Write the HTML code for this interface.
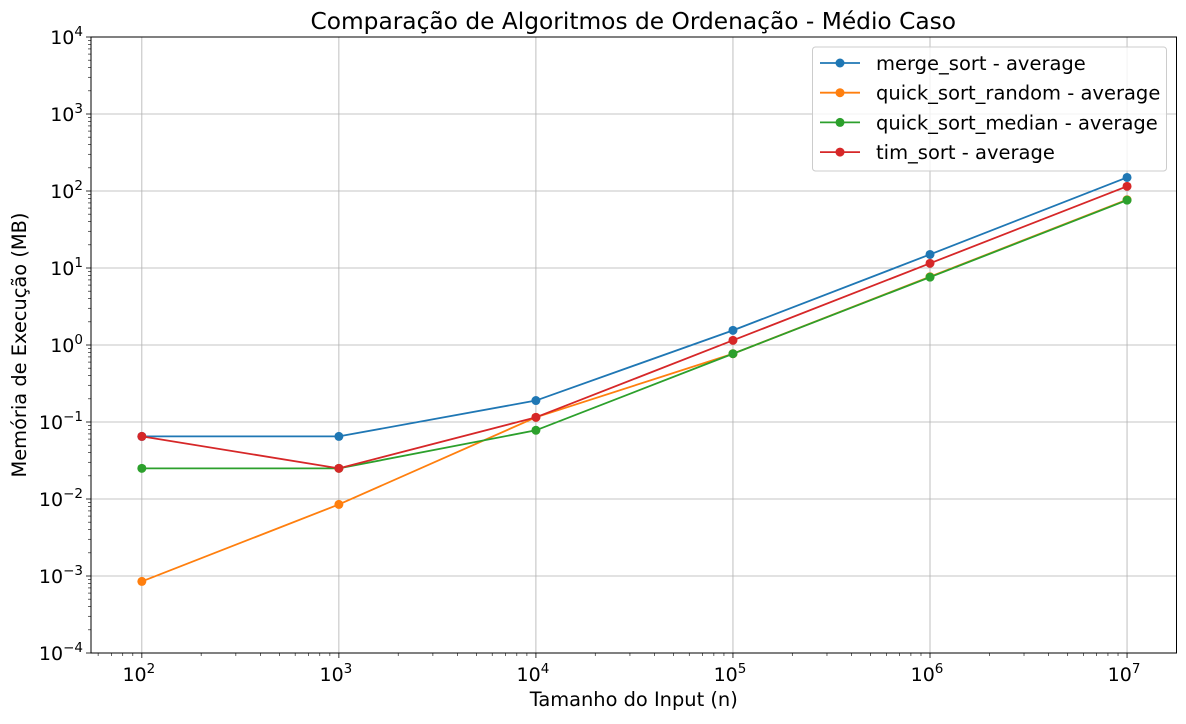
<!DOCTYPE html>
<html><head><meta charset="utf-8"><style>body{margin:0;background:#fff}svg{font-family:"DejaVu Sans","Liberation Sans",sans-serif}</style></head>
<body>
<svg id="c" width="1186" height="719" xmlns="http://www.w3.org/2000/svg"></svg>
<script>
const categories=[100,1000,10000,100000,1000000,10000000];
const seriesNames=["merge_sort - average","quick_sort_random - average","quick_sort_median - average","tim_sort - average"];
const mergeSort=[0.065,0.065,0.19,1.55,15,150];
const quickRandom=[0.00085,0.0085,0.115,0.77,7.7,77];
const quickMedian=[0.025,0.025,0.078,0.77,7.6,76];
const timSort=[0.065,0.025,0.115,1.15,11.5,115];
const xTickExps=[2,3,4,5,6,7];
const yTickExps=[-4,-3,-2,-1,0,1,2,3,4];
const colors=["#1f77b4","#ff7f0e","#2ca02c","#d62728"];
const L=91,R=1176.5,T=37,B=653;
const xmin=1.742,xmax=7.251,ymin=-4,ymax=4;
const sx=v=>L+(Math.log10(v)-xmin)/(xmax-xmin)*(R-L);
const sy=v=>B-(Math.log10(v)-ymin)/(ymax-ymin)*(B-T);
const svg=document.getElementById('c');const NS="http://www.w3.org/2000/svg";
function mk(t,a,p){const e=document.createElementNS(NS,t);for(const k in a)e.setAttribute(k,a[k]);(p||svg).appendChild(e);return e;}
const sup=e=>(e<0?'\u2212'+(-e):''+e);
// grid
xTickExps.forEach(e=>{const x=sx(10**e);const g=mk('line',{x1:x,x2:x,y1:T,y2:B,stroke:'#b0b0b0','stroke-width':0.8});

});
yTickExps.forEach(e=>{const y=sy(10**e);const g=mk('line',{x1:L,x2:R,y1:y,y2:y,stroke:'#b0b0b0','stroke-width':0.8});

});
// x ticks
xTickExps.forEach(e=>{const x=sx(10**e);mk('line',{x1:x,x2:x,y1:B,y2:B+5,stroke:'#000','stroke-width':0.8});
const t=mk('text',{x:x-3,y:B+28,'text-anchor':'middle','font-size':19});t.innerHTML='10<tspan dy="-8" font-size="13.5">'+sup(e)+'</tspan>';

});
for(let e=1;e<=7;e++)for(let m=2;m<=9;m++){const v=m*10**e;const lv=Math.log10(v);if(lv<xmin||lv>xmax)continue;const x=sx(v);mk('line',{x1:x,x2:x,y1:B,y2:B+3,stroke:'#000','stroke-width':0.6});}
yTickExps.forEach(e=>{const y=sy(10**e);mk('line',{x1:L-5,x2:L,y1:y,y2:y,stroke:'#000','stroke-width':0.8});
const t=mk('text',{x:L-8,y:y+7,'text-anchor':'end','font-size':19});t.innerHTML='10<tspan dy="-8" font-size="13.5">'+sup(e)+'</tspan>';

});
for(let e=-4;e<4;e++)for(let m=2;m<=9;m++){const y=sy(m*10**e);mk('line',{x1:L-3,x2:L,y1:y,y2:y,stroke:'#000','stroke-width':0.6});}
// frame
const fr=mk('rect',{x:L,y:T,width:R-L,height:B-T,fill:'none',stroke:'#000','stroke-width':1});


// series
const all=[mergeSort,quickRandom,quickMedian,timSort];
all.forEach((s,i)=>{const g=mk('g',{});


mk('polyline',{points:s.map((v,j)=>sx(categories[j])+','+sy(v)).join(' '),fill:'none',stroke:colors[i],'stroke-width':1.8},g);
s.forEach((v,j)=>{const c=mk('circle',{cx:sx(categories[j]),cy:sy(v),r:4.5,fill:colors[i]},g);

});});
// legend
const lg=mk('g',{});


mk('rect',{x:812.5,y:47,width:354,height:124,rx:3,fill:'#fff','fill-opacity':0.8,stroke:'#ccc'},lg);
seriesNames.forEach((n,i)=>{const y=63+i*29.7;mk('line',{x1:820,x2:860,y1:y,y2:y,stroke:colors[i],'stroke-width':1.8},lg);
mk('circle',{cx:840,cy:y,r:4.5,fill:colors[i]},lg);
const t=mk('text',{x:876,y:y+7,'font-size':19.5},lg);t.textContent=n;

});
// titles
let t=mk('text',{x:(L+R)/2+-0.5,y:29,'text-anchor':'middle','font-size':23.3});t.textContent='Comparação de Algoritmos de Ordenação - Médio Caso';


t=mk('text',{x:(L+R)/2,y:706,'text-anchor':'middle','font-size':19.4});t.textContent='Tamanho do Input (n)';


t=mk('text',{x:0,y:0,'text-anchor':'middle','font-size':19.4,transform:'translate(26,'+((T+B)/2)+') rotate(-90)'});t.textContent='Memória de Execução (MB)';


</script>
</body></html>
